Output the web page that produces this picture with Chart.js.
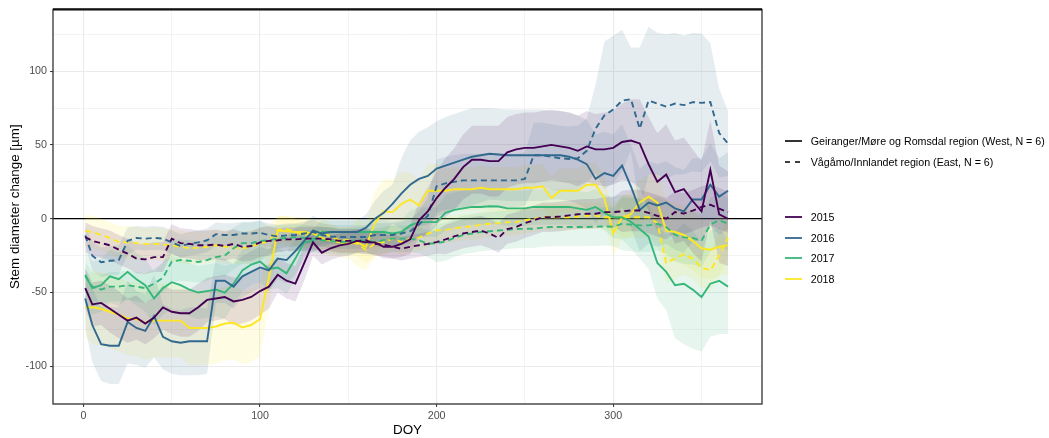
<!DOCTYPE html>
<html>
<head>
<meta charset="utf-8">
<script src="https://cdn.jsdelivr.net/npm/chart.js@4.4.1/dist/chart.umd.min.js"></script>
<style>
  html, body { margin: 0; padding: 0; background: #fff; }
  #wrap { position: relative; width: 1049px; height: 438px; }
  #legend { position: absolute; left: 0; top: 0; width: 1049px; height: 438px; pointer-events: none;
            font-family: "Liberation Sans", Arial, Helvetica, sans-serif; font-size: 10.7px; color: #000; }
  .row { position: absolute; left: 785px; height: 14px; line-height: 14px; white-space: nowrap; }
  .row svg { position: absolute; left: 0; top: 0; }
  .row span { position: absolute; left: 25.7px; top: 0; }
</style>
</head>
<body>
<div id="wrap">
  <canvas id="c" width="1049" height="438"></canvas>
  <div id="legend"></div>
</div>
<script>
// Day of year of each sample
const doy = [1,5,10,15,20,25,30,35,40,45,50,55,60,65,70,75,80,85,90,95,100,105,110,115,120,125,130,135,140,145,150,155,160,165,170,175,180,185,190,195,200,205,210,215,220,225,230,235,240,245,250,255,260,265,270,275,280,285,290,295,300,305,310,315,320,325,330,335,340,345,350,355,360,365];

// Mean stem diameter change [µm], West region (Geiranger/Møre og Romsdal)
const west2015 = [-47,-58,-57,-61,-65,-69,-67,-71,-67,-60,-63,-64,-64,-60,-55,-54,-53,-56,-55,-53,-49,-46,-38,-42,-44,-30,-16,-23,-20,-18,-17,-15,-16,-16,-19,-19,-17,-14,-1,5,14,21,27,35,40,40,39,39,45,47,48,48,49,50,49,48,46,49,47,47,48,52,53,51,37,25,30,18,20,12,5,33,3,0];
const west2016 = [-54,-72,-85,-86,-86,-70,-74,-76,-66,-80,-83,-84,-83,-83,-83,-42,-42,-46,-39,-36,-33,-35,-27,-28,-22,-15,-8,-10,-9,-9,-9,-9,-6,0,4,10,17,23,27,29,34,36,38,40,42,43,44,43.5,43,43,43,43,43,43,43,42,40,37,27,31,29,36,22,6,11,9,11,7,5,13,13,23,15,19];
const west2017 = [-38,-47,-45,-39,-41,-36,-41,-45,-54,-47,-43,-45,-48,-50,-49,-48,-50,-44,-35,-31,-29,-34,-33,-37,-27,-16,-15,-9,-9,-9,-9,-9,-9,-9,-9,-10,-9,-4.5,-2.3,-2.3,-2.3,4,6,7,8,8,8.5,8.3,7,7,7,8,8,8,8,8,7,6,8,4,1,1,-2,-7,-12,-30,-36,-45,-44,-48,-53,-44,-42,-46];
const west2018 = [-60,-60,-61,-63,-65,-67.6,-68,-70.5,-69,-69,-69,-69,-74,-74,-74,-73,-71,-70.5,-73.6,-72,-68,-40,-8,-8.5,-9,-9,-10,-13,-15,-16,-17,-16,-19,-3,5,4.5,10,13,9,19,19,19,20,20,20,21,20,20,20,20,21,21,22,14,19,19,19,23,23,14,-10,1,3,11,15,11,-8,-9,-11,-15,-20,-21,-19,-18];

// Mean stem diameter change [µm], East region (Vågåmo/Innlandet)
const east2015 = [-12.4,-15,-16.5,-18,-21,-23.6,-27,-27.5,-26,-26,-13.5,-16.5,-17,-18,-18,-17.5,-18.5,-17,-19,-18.5,-16,-15,-14.6,-14,-14,-13.5,-13.5,-13.5,-14,-15,-15,-15,-14.6,-17,-17.5,-19,-20.3,-19,-18,-17,-15.8,-14,-12,-10,-9,-8,-10,-13,-7,-5.6,-3,-1,1,1,1.5,2.3,3,3.4,3.4,4.5,4.5,5,5.6,5.6,4,2,0,4.5,3.5,5.5,8,9.5,6.8,4.5];
const east2016 = [-11.3,-25,-29.5,-28.5,-28,-15,-13,-13.5,-13,-13.5,-16,-18.5,-17,-16,-14.6,-10.5,-11,-11,-10,-10,-9.5,-11,-12,-11.3,-11,-10,-9,-11,-12,-12.4,-12.4,-12.4,-12.4,-11,-11,-11,-10,-8.5,-4,2,22,24,25,26,26,26,26,26,26,26,27,43,43,42,41,40.5,41,46,61,70,74,80,81,61,80,78,76,78,77,79,78.5,79,58,51];
const east2017 = [-39,-46,-48,-46,-46,-45,-46,-47,-44,-40,-29,-28,-28.5,-29.3,-28,-26,-25,-20,-16.5,-16.5,-15,-14.6,-13.5,-13,-12.5,-13,-13.5,-14.6,-15,-15.8,-15.5,-14.6,-14.8,-15.8,-14.5,-13.5,-13.5,-13.5,-14.6,-17,-16.5,-15.5,-13,-11,-10,-9,-8.5,-8,-7.5,-7,-6.8,-6.8,-6,-5.6,-5.6,-5.6,-5.6,-5.6,-5.4,-5.2,-5.4,-3.4,-4,-4.5,-4.5,-3.4,-5.6,-11,-12.6,-13,-15,-4,-1,-3.4];
const east2018 = [-8.3,-9,-11,-13,-15.8,-16,-16.5,-17.2,-17,-17.5,-18,-19,-20,-19.6,-19,-18,-19,-19.5,-20,-18.7,-17,-15,-7.5,-7,-9,-11,-10,-9,-12,-14.6,-14.6,-17,-21,-17,-15.8,-13.5,-15.8,-13.5,-12.8,-10,-8,-7.5,-6.5,-5.6,-5.2,-4,-3.4,-3,-2.3,-2.3,-1,0,1,1,1,1,1.5,2,2,1,1,1,1,1,1,-3,-30,-27,-24,-27,-33,-35,-25,-13];

// Half-width of the uncertainty band around each mean [µm]
const sdWest2015 = [14,15,15,16,16,15,15,14,14,15,15,16,16,16,15,15,15,16,16,16,16,15,12,12,12,12,9,8,8,8,8,8,8,8,8,8,9,10,12,16,18,20,21,22,23,23,24,24,24,24,24,24,24,24,24,24,24,24,24,25,25,26,28,30,32,33,34,35,35,35,34,34,33,32];
const sdWest2016 = [20,25,25,26,26,28,25,25,28,22,22,22,23,23,22,15,15,15,14,14,14,14,14,16,16,12,10,9,8,8,8,8,9,12,15,13,24,30,32,33,32,33,33,33,33,32,31,31,31,31,31,31,31,30,30,30,30,30,30,28,28,28,28,28,28,28,28,28,28,28,28,28,26,26];
const sdWest2017 = [18,18,18,18,18,18,18,18,18,18,18,18,18,18,18,18,18,14,14,14,14,14,14,14,14,8,8,8,8,8,8,8,8,8,8,8,8,10,10,10,10,12,12,12,12,12,12,12,12,12,12,12,12,12,12,12,12,12,12,12,14,15,18,20,22,24,26,36,41,40,37,36,36,32];
const sdWest2018 = [20,25,25,25,25,25,25,25,25,25,25,25,25,25,25,25,25,25,25,25,25,20,10,10,10,10,10,10,10,10,10,16,16,22,22,22,22,18,18,18,18,15,15,15,15,15,15,15,15,15,15,15,15,15,15,15,15,15,15,15,15,15,15,15,15,20,20,20,20,20,20,20,20,20];
const sdEast2015 = [10,10,10,10,10,10,10,10,10,10,10,10,10,10,10,10,10,10,10,10,10,10,8,8,8,8,8,8,8,8,8,8,8,8,8,8,8,8,8,8,8,10,10,10,10,10,10,10,10,10,10,10,10,10,10,10,10,10,10,10,10,14,14,14,14,14,14,14,14,14,14,14,14,14];
const sdEast2016 = [6,10,10,10,10,9,8,8,8,8,8,8,8,8,8,8,8,8,8,8,8,8,8,8,8,8,8,8,8,8,8,8,8,8,8,8,8,8,9,12,18,18,18,18,18,18,18,18,18,18,18,22,22,22,22,22,22,22,30,50,50,48,35,55,50,48,49,48,47,47,47,40,30,22];
const sdEast2017 = [10,10,10,10,10,10,10,10,10,10,14,14,14,14,14,14,14,14,14,14,14,9,9,9,9,9,9,9,9,9,9,9,9,9,9,9,9,9,9,9,13,13,13,13,13,13,13,13,13,13,13,13,13,13,13,13,13,13,13,13,13,18,18,18,18,18,18,18,18,18,18,18,18,18];
const sdEast2018 = [11,11,11,11,11,11,11,11,11,11,11,11,11,11,11,11,11,11,11,11,11,11,9,9,9,9,9,9,9,9,9,9,9,9,9,9,9,9,9,9,9,9,9,9,9,9,9,9,9,9,9,9,9,9,9,9,9,9,9,9,9,14,14,14,14,14,14,14,14,14,14,14,14,14];

// Axis ticks
const xMajorTicks = [0, 100, 200, 300];
const xMinorTicks = [50, 150, 250, 350];
const yMajorTicks = [-100, -50, 0, 50, 100];
const yMinorTicks = [-125, -75, -25, 25, 75, 125];

// Legend entries
const regionLabels = ['Geiranger/Møre og Romsdal region (West, N = 6)', 'Vågåmo/Innlandet region (East, N = 6)'];
const yearLabels = ['2015', '2016', '2017', '2018'];

// Styling
const FONT = '"Liberation Sans", Arial, Helvetica, sans-serif';
const yearColors = { '2015': [68, 1, 84], '2016': [49, 104, 142], '2017': [53, 183, 121], '2018': [253, 231, 37] };
const rgba = (c, a) => `rgba(${c[0]},${c[1]},${c[2]},${a})`;

const series = [
  { year: '2015', dashed: false, mean: west2015, sd: sdWest2015 },
  { year: '2015', dashed: true,  mean: east2015, sd: sdEast2015 },
  { year: '2016', dashed: false, mean: west2016, sd: sdWest2016 },
  { year: '2016', dashed: true,  mean: east2016, sd: sdEast2016 },
  { year: '2017', dashed: false, mean: west2017, sd: sdWest2017 },
  { year: '2017', dashed: true,  mean: east2017, sd: sdEast2017 },
  { year: '2018', dashed: false, mean: west2018, sd: sdWest2018 },
  { year: '2018', dashed: true,  mean: east2018, sd: sdEast2018 }
];

const datasets = [];
// mean lines (drawn on top)
series.forEach(s => {
  datasets.push({
    data: doy.map((d, i) => ({ x: d, y: s.mean[i] })),
    borderColor: rgba(yearColors[s.year], 1),
    borderWidth: 1.9,
    borderDash: s.dashed ? [6, 4] : [],
    pointRadius: 0,
    fill: false,
    tension: 0,
    order: 0
  });
});
// uncertainty bands (drawn underneath)
series.forEach(s => {
  const upperIndex = datasets.length;
  datasets.push({
    data: doy.map((d, i) => ({ x: d, y: s.mean[i] + s.sd[i] })),
    borderWidth: 0,
    pointRadius: 0,
    backgroundColor: rgba(yearColors[s.year], 0.12),
    fill: upperIndex + 1,
    tension: 0,
    order: 1
  });
  datasets.push({
    data: doy.map((d, i) => ({ x: d, y: s.mean[i] - s.sd[i] })),
    borderWidth: 0,
    pointRadius: 0,
    fill: false,
    tension: 0,
    order: 1
  });
});

const isMajor = (list, v) => list.includes(v);

const panelBorder = {
  id: 'panelBorder',
  afterDraw(chart) {
    const { ctx, chartArea: a } = chart;
    ctx.save();
    ctx.strokeStyle = '#333333';
    ctx.lineWidth = 1.3;
    ctx.strokeRect(a.left, a.top, a.right - a.left, a.bottom - a.top);
    ctx.strokeStyle = '#111111';
    ctx.lineWidth = 2.2;
    ctx.beginPath();
    ctx.moveTo(a.left, a.top);
    ctx.lineTo(a.right, a.top);
    ctx.stroke();
    ctx.restore();
  }
};

new Chart(document.getElementById('c'), {
  type: 'line',
  data: { datasets },
  plugins: [panelBorder],
  options: {
    responsive: false,
    animation: false,
    devicePixelRatio: 1,
    layout: { padding: { left: 0, top: 8, right: 287, bottom: 0 } },
    plugins: { legend: { display: false }, tooltip: { enabled: false } },
    scales: {
      x: {
        type: 'linear',
        min: -17.25,
        max: 384.25,
        afterBuildTicks: s => { s.ticks = [...xMajorTicks, ...xMinorTicks].sort((a, b) => a - b).map(v => ({ value: v })); },
        afterFit: s => { s.height = 34; },
        border: { display: false },
        grid: {
          color: '#EBEBEB',
          lineWidth: c => isMajor(xMajorTicks, c.tick.value) ? 1.1 : 0.6,
          tickLength: 3,
          tickColor: c => isMajor(xMajorTicks, c.tick.value) ? '#333333' : 'rgba(0,0,0,0)',
          tickWidth: 1
        },
        ticks: {
          autoSkip: false, maxRotation: 0, padding: 3, color: '#4D4D4D',
          font: { family: FONT, size: 10.7 },
          callback: v => isMajor(xMajorTicks, v) ? String(v) : ''
        },
        title: { display: true, text: 'DOY', color: '#000', font: { family: FONT, size: 13.4 }, padding: { top: 0, bottom: 0 } }
      },
      y: {
        type: 'linear',
        min: -125.5,
        max: 141.8,
        afterBuildTicks: s => { s.ticks = [...yMajorTicks, ...yMinorTicks].sort((a, b) => a - b).map(v => ({ value: v })); },
        afterFit: s => { s.width = 53; },
        border: { display: false },
        grid: {
          color: c => c.tick.value === 0 ? '#000000' : '#EBEBEB',
          lineWidth: c => c.tick.value === 0 ? 1.2 : (isMajor(yMajorTicks, c.tick.value) ? 1.1 : 0.6),
          tickLength: 3,
          tickColor: c => isMajor(yMajorTicks, c.tick.value) ? '#333333' : 'rgba(0,0,0,0)',
          tickWidth: 1
        },
        ticks: {
          autoSkip: false, padding: 3, color: '#4D4D4D',
          font: { family: FONT, size: 10.7 },
          callback: v => isMajor(yMajorTicks, v) ? String(v) : ''
        },
        title: { display: true, text: 'Stem diameter change [µm]', color: '#000', font: { family: FONT, size: 13.4 }, padding: { top: 7, bottom: 0 } }
      }
    }
  }
});

// Legend: line type for region, colour for year
const legend = document.getElementById('legend');
function addRow(centerY, label, stroke, dashed, width) {
  const row = document.createElement('div');
  row.className = 'row';
  row.style.top = (centerY - 7) + 'px';
  const dash = dashed ? ' stroke-dasharray="5,5"' : '';
  row.innerHTML = `<svg width="18" height="14"><line x1="0" y1="7" x2="17" y2="7" stroke="${stroke}" stroke-width="${width}"${dash}/></svg><span></span>`;
  row.querySelector('span').textContent = label;
  legend.appendChild(row);
}
const regionRowY = [141, 162.3];
const yearRowY = [216.7, 237.7, 258.3, 279.3];
regionLabels.forEach((lab, i) => addRow(regionRowY[i], lab, '#000', i === 1, 1.6));
yearLabels.forEach((lab, i) => addRow(yearRowY[i], lab, rgba(yearColors[lab], 1), false, 1.8));
</script>
</body>
</html>
